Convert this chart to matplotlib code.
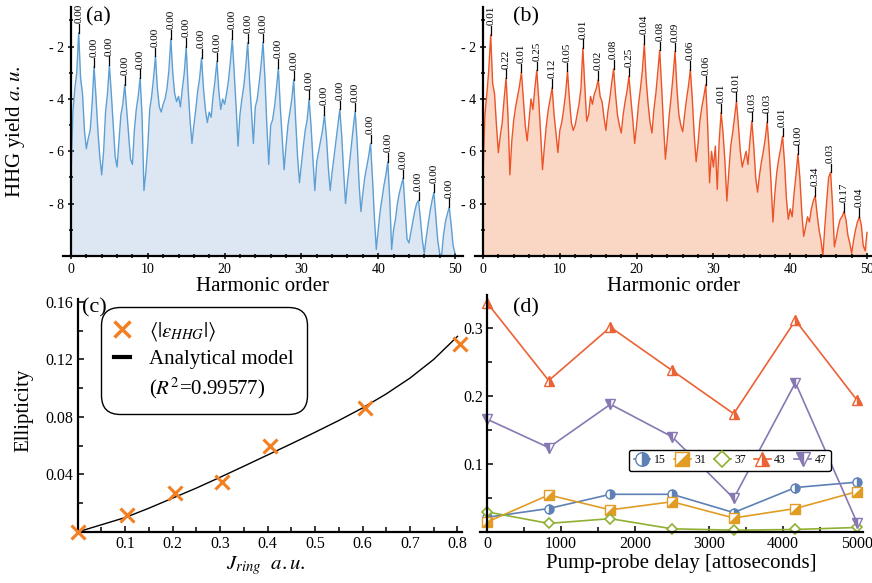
import numpy as np
import matplotlib
matplotlib.use("Agg")
import matplotlib.pyplot as plt
from matplotlib.lines import Line2D
from matplotlib.legend_handler import HandlerTuple
from matplotlib.ticker import FixedLocator, FuncFormatter

plt.rcParams['font.family'] = ['Liberation Serif', 'DejaVu Serif']
plt.rcParams['mathtext.fontset'] = 'stix'

# harmonic order axis, sampled every quarter order
harm = np.arange(0, 50.001, 0.25)
odd_orders = list(range(1, 50, 2))

# log10 HHG yield, panel (a)
yield_a = [
    -7.0, -4.5, -3.6, -3.0, -1.47, -3.2, -3.8, -5.2,
    -5.9, -5.5, -5.2, -4.2, -2.76, -3.9, -5.2, -6.2,
    -6.9, -6.0, -4.5, -3.8, -2.70, -3.8, -5.0, -6.2,
    -6.6, -5.6, -4.6, -4.2, -3.45, -4.4, -5.3, -6.3,
    -6.5, -5.2, -4.4, -3.9, -3.20, -4.6, -7.5, -6.8,
    -5.8, -4.4, -3.9, -3.2, -2.37, -3.6, -4.3, -4.5,
    -4.2, -4.0, -3.6, -2.9, -1.70, -3.0, -3.8, -4.1,
    -3.9, -4.3, -3.6, -3.0, -2.00, -3.6, -4.8, -5.7,
    -5.0, -4.4, -3.7, -3.2, -2.43, -3.6, -4.4, -4.9,
    -4.5, -4.7, -3.9, -3.3, -2.56, -3.7, -4.4, -4.0,
    -4.2, -3.8, -3.3, -2.6, -1.70, -3.0, -4.3, -5.8,
    -4.6, -4.0, -3.5, -2.8, -1.85, -3.3, -4.5, -5.7,
    -4.3, -4.0, -3.4, -2.7, -1.83, -3.2, -5.0, -6.5,
    -5.0, -4.8, -4.3, -3.6, -2.81, -4.3, -5.5, -6.7,
    -5.8, -5.0, -4.5, -4.0, -3.26, -4.8, -6.2, -7.2,
    -6.5, -5.8, -5.2, -4.8, -4.00, -5.0, -6.3, -7.5,
    -6.4, -6.0, -5.6, -5.2, -4.60, -5.4, -6.6, -7.5,
    -6.8, -6.2, -5.6, -5.0, -4.40, -5.4, -6.8, -8.0,
    -7.2, -6.5, -5.8, -5.1, -4.47, -5.6, -7.2, -8.3,
    -7.6, -7.0, -6.6, -6.2, -5.70, -7.0, -8.5, -9.75,
    -9.0, -8.3, -7.8, -7.3, -6.90, -6.4, -7.8, -9.75,
    -9.0, -8.6, -8.0, -7.6, -7.30, -7.03, -8.2, -9.35,
    -9.5, -9.1, -8.7, -8.3, -8.00, -7.87, -8.6, -9.4,
    -9.9, -9.3, -8.8, -8.3, -7.90, -7.57, -8.5, -9.4,
    -9.9, -10.0, -9.2, -8.7, -8.40, -8.13, -8.8, -9.6,
    -9.9,
]

# log10 HHG yield, panel (b)
yield_b = [
    -6.9, -4.6, -3.8, -2.9, -1.54, -3.4, -3.8, -5.0,
    -6.05, -5.4, -4.9, -4.0, -3.20, -4.6, -6.9, -5.6,
    -4.8, -4.3, -3.9, -3.5, -2.98, -4.0, -5.0, -5.6,
    -4.8, -4.0, -4.4, -3.6, -2.90, -4.0, -5.3, -6.7,
    -5.8, -5.0, -4.4, -4.0, -3.57, -4.6, -5.3, -6.05,
    -5.2, -4.9, -4.4, -3.8, -2.94, -4.0, -4.9, -5.2,
    -5.0, -4.6, -4.2, -3.6, -2.05, -3.5, -4.85, -4.6,
    -3.9, -4.2, -3.8, -3.6, -3.26, -3.9, -4.1, -4.7,
    -5.2, -4.5, -4.0, -3.4, -2.85, -3.8, -4.6, -5.0,
    -5.3, -4.6, -4.1, -3.7, -3.13, -4.0, -4.8, -5.7,
    -5.0, -4.2, -3.6, -2.9, -1.89, -3.3, -4.2, -4.9,
    -5.3, -4.4, -3.8, -3.0, -2.14, -3.5, -5.0, -6.3,
    -5.5, -4.6, -3.9, -3.1, -2.18, -3.6, -4.6, -5.0,
    -5.25, -4.6, -4.0, -3.5, -2.88, -4.0, -5.4, -6.4,
    -5.7, -4.8, -4.3, -3.9, -3.45, -5.0, -7.2, -6.0,
    -6.6, -5.8, -7.45, -5.6, -4.52, -5.3, -6.4, -7.9,
    -6.8, -5.8, -5.3, -4.7, -4.08, -5.0, -6.0, -6.6,
    -6.3, -6.0, -6.5, -5.6, -4.84, -5.8, -7.0, -7.56,
    -6.9, -6.4, -6.0, -5.5, -4.88, -5.9, -7.2, -8.7,
    -7.6, -6.8, -6.3, -5.9, -5.42, -6.4, -7.8, -8.6,
    -8.2, -8.5, -7.6, -6.9, -6.10, -7.0, -8.3, -9.25,
    -8.9, -8.5, -8.7, -8.2, -7.90, -7.7, -8.4, -9.0,
    -9.4, -10.0, -8.9, -7.9, -7.00, -6.8, -8.0, -9.65,
    -9.3, -8.9, -8.6, -8.5, -8.30, -8.6, -9.2, -9.5,
    -9.9, -9.4, -9.0, -8.7, -8.50, -8.8, -9.6, -9.8,
    -9.1,
]

labels_a = ['0.00'] * 25
labels_b = ['0.01', '0.22', '0.01', '0.25', '0.12', '0.05', '0.01', '0.02',
            '0.08', '0.25', '0.04', '0.08', '0.09', '0.06', '0.06', '0.01',
            '0.01', '0.03', '0.03', '0.01', '0.00', '0.34', '0.03', '0.17',
            '0.04']

# panel (c)
j_ring = [0.0, 0.105, 0.205, 0.305, 0.405, 0.605, 0.805]
ellip_hhg = [0.0, 0.012, 0.027, 0.035, 0.060, 0.086, 0.131]
model_j = [0.0, 0.05, 0.1, 0.15, 0.2, 0.25, 0.3, 0.35, 0.4, 0.45, 0.5,
           0.55, 0.6, 0.65, 0.7, 0.75, 0.8]
model_e = [0.0, 0.0050, 0.0100, 0.0165, 0.0235, 0.0305, 0.0380, 0.0457,
           0.0535, 0.0613, 0.0693, 0.0775, 0.0862, 0.0960, 0.1070, 0.1200,
           0.1360]

# panel (d)
delay = [0, 833, 1667, 2500, 3333, 4167, 5000]
ell_15 = [0.021, 0.034, 0.055, 0.055, 0.028, 0.065, 0.073]
ell_31 = [0.014, 0.054, 0.032, 0.044, 0.020, 0.034, 0.059]
ell_37 = [0.029, 0.012, 0.019, 0.004, 0.002, 0.003, 0.006]
ell_43 = [0.338, 0.223, 0.302, 0.238, 0.174, 0.312, 0.194]
ell_47 = [0.166, 0.124, 0.188, 0.140, 0.049, 0.220, 0.013]

fig = plt.figure(figsize=(8.72, 5.83), dpi=100)


def style_axes(ax, direction, tick_size):
    for side in ['top', 'right']:
        ax.spines[side].set_visible(False)
    for side in ['left', 'bottom']:
        ax.spines[side].set_linewidth(1.6)
    ax.tick_params(which='both', direction=direction, width=1.1,
                   labelsize=tick_size, pad=3)
    ax.tick_params(which='major', length=4.5)
    ax.tick_params(which='minor', length=3.5)


def hhg_panel(rect, y, labels, line_c, fill_c, tag, tag_x, xmax):
    ax = fig.add_axes(rect)
    y = np.asarray(y)
    ax.fill_between(harm, y, -10, color=fill_c, lw=0)
    ax.plot(harm, y, color=line_c, lw=1.0)
    # label every odd harmonic at its local maximum
    for order, lbl in zip(odd_orders, labels):
        win = (harm > order - 0.6) & (harm < order + 0.6)
        i = np.argmax(np.where(win, y, -99))
        ax.plot([harm[i], harm[i]], [y[i], y[i] + 0.33], color='k', lw=0.9,
                clip_on=False)
        ax.text(harm[i], y[i] + 0.36, lbl, rotation=90, ha='center',
                va='bottom', fontsize=8, clip_on=False)
    ax.set_xlim(-1, xmax)
    ax.set_ylim(-10, -0.5)
    ax.spines['left'].set_position(('data', 0))
    style_axes(ax, 'inout', 10)
    ax.xaxis.set_major_locator(FixedLocator([0, 10, 20, 30, 40, 50]))
    ax.xaxis.set_minor_locator(FixedLocator(list(range(2, 50, 2))))
    ax.yaxis.set_major_locator(FixedLocator([-8, -6, -4, -2]))
    ax.yaxis.set_minor_locator(FixedLocator([-9, -7, -5, -3, -1]))
    ax.yaxis.set_major_formatter(FuncFormatter(lambda v, p: f'- {int(abs(v))}'))
    ax.set_xlabel('Harmonic order', fontsize=15)
    ax.xaxis.set_label_coords(0.5, -0.085)
    ax.text(tag_x, 0.961, tag, transform=ax.transAxes, ha='left',
            va='center', fontsize=16)
    return ax


ax_a = hhg_panel([0.0726, 0.5609, 0.458, 0.4264], yield_a, labels_a,
                 '#5d9fd3', '#dde7f3', '(a)', 0.057, 51)
ax_a.set_ylabel('HHG yield $a.u.$', fontsize=15)
ax_a.yaxis.set_label_coords(-0.09, 0.5)

ax_b = hhg_panel([0.5451, 0.5609, 0.4545, 0.4264], yield_b, labels_b,
                 '#ec5427', '#fad6c4', '(b)', 0.095, 50.6)

# panel (c)
orange = '#f28022'
ax_c = fig.add_axes([0.0889, 0.0875, 0.4412, 0.3997])
ax_c.plot(model_j, model_e, color='k', lw=1.0)
ax_c.plot(j_ring, ellip_hhg, ls='none', marker='x', ms=10.5, mew=2.2,
          color=orange, clip_on=False, zorder=3)
ax_c.set_xlim(0, 0.81)
ax_c.set_ylim(0, 0.162)
style_axes(ax_c, 'in', 11.5)
ax_c.xaxis.set_major_locator(FixedLocator([0.1, 0.2, 0.3, 0.4, 0.5, 0.6, 0.7, 0.8]))
ax_c.xaxis.set_minor_locator(FixedLocator([0.05, 0.15, 0.25, 0.35, 0.45, 0.55, 0.65, 0.75]))
ax_c.yaxis.set_major_locator(FixedLocator([0.04, 0.08, 0.12, 0.16]))
ax_c.yaxis.set_minor_locator(FixedLocator([0.02, 0.06, 0.10, 0.14]))
ax_c.xaxis.set_major_formatter(FuncFormatter(lambda v, p: f'{v:.1f}'))
ax_c.yaxis.set_major_formatter(FuncFormatter(lambda v, p: f'{v:.2f}'))
ax_c.set_xlabel(r'$J_{ring}\ \ a.u.$', fontsize=15)
ax_c.xaxis.set_label_coords(0.49, -0.095)
ax_c.set_ylabel('Ellipticity', fontsize=15)
ax_c.yaxis.set_label_coords(-0.115, 0.524)
ax_c.text(0.012, 0.961, '(c)', transform=ax_c.transAxes, ha='left',
          va='center', fontsize=16)

handles_c = [Line2D([], [], ls='none', marker='x', ms=11, mew=2.5, color=orange),
             Line2D([], [], color='k', lw=3),
             Line2D([], [], ls='none')]
labels_c = [r'$\langle|\varepsilon_{HHG}|\rangle$', 'Analytical model',
            r'($R^2$=0.99577)']
leg_c = ax_c.legend(handles_c, labels_c, loc='upper left',
                    bbox_to_anchor=(0.077, 0.94), borderaxespad=0, fontsize=15,
                    handlelength=0.75, handletextpad=0.9, borderpad=0.35,
                    labelspacing=0.3, fancybox=True, edgecolor='k',
                    framealpha=1)
leg_c.get_frame().set_linewidth(1.0)
leg_c.get_frame().set_boxstyle('round', pad=0.3, rounding_size=0.9)

# panel (d)
ax_d = fig.add_axes([0.5505, 0.0883, 0.4396, 0.4063])
c15, c31, c37, c43, c47 = '#5e81b5', '#e19c24', '#8fb032', '#eb6235', '#8778b3'
ms = 6.5
tri = [(-1, -1), (1, -1), (1, 1), (-1, -1)]

h15 = ax_d.plot(delay, ell_15, color=c15, lw=1.2, marker='o', ms=ms,
                fillstyle='right', mfc=c15, markerfacecoloralt='white',
                mec=c15, mew=1, clip_on=False)[0]
h31a = ax_d.plot(delay, ell_31, color=c31, lw=1.2, marker='s', ms=ms,
                 mfc='white', mec=c31, mew=1, clip_on=False)[0]
h31b = ax_d.plot(delay, ell_31, ls='none', marker=tri, ms=ms, mfc=c31,
                 mec=c31, mew=1, clip_on=False)[0]
h37 = ax_d.plot(delay, ell_37, color=c37, lw=1.2, marker='D', ms=5.5,
                mfc='white', mec=c37, mew=1.2, clip_on=False)[0]
h43 = ax_d.plot(delay, ell_43, color=c43, lw=1.2, marker='^', ms=ms,
                fillstyle='right', mfc=c43, markerfacecoloralt='white',
                mec=c43, mew=1, clip_on=False)[0]
h47 = ax_d.plot(delay, ell_47, color=c47, lw=1.2, marker='v', ms=ms,
                fillstyle='left', mfc=c47, markerfacecoloralt='white',
                mec=c47, mew=1, clip_on=False)[0]

ax_d.set_xlim(-95, 5085)
ax_d.set_ylim(0, 0.35)
ax_d.spines['left'].set_position(('data', 0))
style_axes(ax_d, 'in', 11.5)
ax_d.xaxis.set_major_locator(FixedLocator([0, 1000, 2000, 3000, 4000, 5000]))
ax_d.xaxis.set_minor_locator(FixedLocator([500, 1500, 2500, 3500, 4500]))
ax_d.yaxis.set_major_locator(FixedLocator([0.1, 0.2, 0.3]))
ax_d.yaxis.set_minor_locator(FixedLocator([0.05, 0.15, 0.25]))
ax_d.yaxis.set_major_formatter(FuncFormatter(lambda v, p: f'{v:.1f}'))
ax_d.set_xlabel('Pump-probe delay [attoseconds]', fontsize=15)
ax_d.xaxis.set_label_coords(0.525, -0.095)
ax_d.text(0.086, 0.943, '(d)', transform=ax_d.transAxes, ha='left',
          va='center', fontsize=16)

leg_d = ax_d.legend([h15, (h31a, h31b), h37, h43, h47],
                    ['15', '31', '37', '43', '47'],
                    handler_map={tuple: HandlerTuple(ndivide=1)},
                    loc='center', bbox_to_anchor=(0.652, 0.30), ncol=5,
                    fontsize=8.5, markerscale=1.5, handlelength=1.4,
                    handletextpad=0.3, columnspacing=0.7, borderpad=0.4,
                    fancybox=True, edgecolor='k', framealpha=1)
leg_d.get_frame().set_linewidth(1.0)

fig.savefig('out.png', dpi=100)
